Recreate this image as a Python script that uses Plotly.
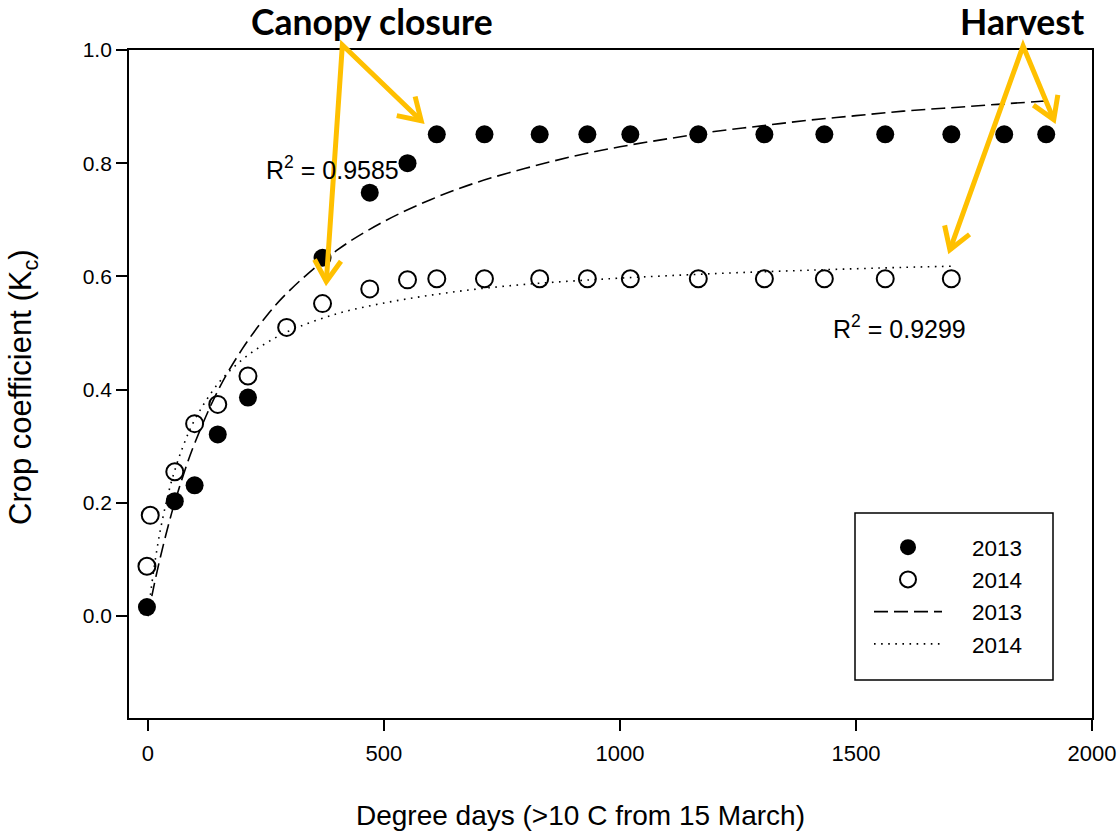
import math
import plotly.graph_objects as go

# ---------------- data ----------------
x_2013 = [-2, 57, 99, 148, 212, 370, 470, 550, 612, 713, 830, 931, 1022, 1166,
          1306, 1433, 1562, 1702, 1814, 1903]
kc_2013 = [0.016, 0.203, 0.231, 0.321, 0.386, 0.633, 0.748, 0.800, 0.851, 0.851,
           0.851, 0.851, 0.851, 0.851, 0.851, 0.851, 0.851, 0.851, 0.851, 0.851]

x_2014 = [-2, 5, 57, 99, 148, 212, 294, 370, 470, 550, 612, 713, 830, 931, 1022,
          1166, 1306, 1433, 1562, 1702]
kc_2014 = [0.088, 0.178, 0.255, 0.340, 0.374, 0.424, 0.510, 0.552, 0.578, 0.594,
           0.596, 0.596, 0.596, 0.596, 0.596, 0.596, 0.596, 0.596, 0.596, 0.596]

# fitted curves
fit_x_2013 = [0, 10, 25, 50, 75, 100, 150, 200, 250, 300, 400, 500, 600, 700, 800,
              900, 1000, 1100, 1200, 1300, 1400, 1500, 1600, 1700, 1800, 1903]
fit_y_2013 = [0.000, 0.042, 0.099, 0.181, 0.249, 0.307, 0.401, 0.472, 0.529, 0.575,
              0.646, 0.697, 0.736, 0.767, 0.791, 0.812, 0.829, 0.843, 0.856, 0.866,
              0.876, 0.884, 0.892, 0.898, 0.904, 0.910]

fit_x_2014 = [0, 5, 10, 20, 30, 50, 75, 100, 150, 200, 250, 300, 400, 500, 600, 700,
              800, 900, 1000, 1200, 1400, 1600, 1702]
fit_y_2014 = [0.000, 0.035, 0.067, 0.122, 0.167, 0.238, 0.301, 0.348, 0.412, 0.453,
              0.482, 0.504, 0.534, 0.553, 0.567, 0.578, 0.586, 0.592, 0.597, 0.605,
              0.611, 0.616, 0.618]

series_names = ["2013", "2014"]
r2_labels = ["R<sup>2</sup> = 0.9585", "R<sup>2</sup> = 0.9299"]
r2_pos = [(392, 0.792), (1592, 0.511)]

x_ticks = [0, 500, 1000, 1500, 2000]
y_ticks = [0.0, 0.2, 0.4, 0.6, 0.8, 1.0]

# ---------------- layout geometry (page pixels) ----------------
W, H = 1120, 834
L, R, T, B = 129, 1092, 50, 718   # plot box
XR = [-40, 2000]
YR = [-0.18, 1.0]

def d2px(x, y):
    px = L + (x - XR[0]) / (XR[1] - XR[0]) * (R - L)
    py = B - (y - YR[0]) / (YR[1] - YR[0]) * (B - T)
    return px, py

def px2paper(px, py):
    return (px - L) / (R - L), (B - py) / (B - T)

FONT = "Liberation Sans, Arial, sans-serif"
GOLD = "#FFC000"
NB = "\u00a0" * 4

fig = go.Figure()
fig.add_trace(go.Scatter(x=x_2013, y=kc_2013, mode="markers", name=NB + series_names[0],
                         marker=dict(symbol="circle", size=18, color="black"),
                         cliponaxis=False))
fig.add_trace(go.Scatter(x=x_2014, y=kc_2014, mode="markers", name=NB + series_names[1],
                         marker=dict(symbol="circle-open", size=17, color="black",
                                     line=dict(width=2, color="black")),
                         cliponaxis=False))
fig.add_trace(go.Scatter(x=fit_x_2013, y=fit_y_2013, mode="lines", name=NB + series_names[0],
                         line=dict(color="black", width=1.6, dash="14px,6px",
                                   shape="spline")))
fig.add_trace(go.Scatter(x=fit_x_2014, y=fit_y_2014, mode="lines", name=NB + series_names[1],
                         line=dict(color="black", width=1.6, dash="1.6px,5.5px",
                                   shape="spline")))

annotations = []
for txt, (ax, ay) in zip(r2_labels, r2_pos):
    annotations.append(dict(x=ax, y=ay, xref="x", yref="y", text=txt, showarrow=False,
                            font=dict(family=FONT, size=25, color="black")))

# headline labels
for txt, (cx, cy) in [("Canopy closure", (372, 21)), ("Harvest", (1022, 21))]:
    px_, py_ = px2paper(cx, cy)
    annotations.append(dict(x=px_, y=py_, xref="paper", yref="paper", text="<b>" + txt + "</b>",
                            showarrow=False, xanchor="center", yanchor="middle",
                            font=dict(family="Lato, Open Sans, sans-serif", size=35.5, color="black")))

# axis titles
tx, ty = px2paper(580, 815)
annotations.append(dict(x=tx, y=ty, xref="paper", yref="paper",
                        text="Degree days (>10 C from 15 March)", showarrow=False,
                        xanchor="center", yanchor="middle",
                        font=dict(family=FONT, size=28, color="black")))
tx, ty = px2paper(23, 387)
annotations.append(dict(x=tx, y=ty, xref="paper", yref="paper",
                        text="Crop coefficient (K<sub>c</sub>)", showarrow=False, textangle=-90,
                        xanchor="center", yanchor="middle",
                        font=dict(family=FONT, size=31, color="black")))

# arrows (data coordinates: origin, tip-left, tip-right)
arrows = [((412, 1.009), (378, 0.591), (579, 0.875)),
          ((1854, 1.007), (1699, 0.647), (1919, 0.877))]
shapes = []

def p2s(px, py):
    a, b = px2paper(px, py)
    return f"{a:.5f},{b:.5f}"

for origin, tl, tr in arrows:
    o = d2px(*origin)
    t1 = d2px(*tl)
    t2 = d2px(*tr)
    shapes.append(dict(type="path", xref="paper", yref="paper",
                       path=f"M{p2s(*t1)} L{p2s(*o)} L{p2s(*t2)}",
                       line=dict(color=GOLD, width=5)))
    for t in (t1, t2):
        dx, dy = t[0] - o[0], t[1] - o[1]
        n = math.hypot(dx, dy)
        ux, uy = dx / n, dy / n
        arms = []
        for ang in (math.radians(32), -math.radians(32)):
            c, s = math.cos(ang), math.sin(ang)
            rx, ry = ux * c - uy * s, ux * s + uy * c
            arms.append((t[0] - 25 * rx, t[1] - 25 * ry))
        shapes.append(dict(type="path", xref="paper", yref="paper",
                           path=f"M{p2s(*arms[0])} L{p2s(*t)} L{p2s(*arms[1])}",
                           line=dict(color=GOLD, width=5)))

# legend frame
bx0, by0 = px2paper(855, 680)
bx1, by1 = px2paper(1053, 513)
shapes.append(dict(type="rect", xref="paper", yref="paper", x0=bx0, y0=by0, x1=bx1, y1=by1,
                   line=dict(color="black", width=1.5), fillcolor="rgba(0,0,0,0)", layer="below"))

lx, ly = px2paper(869, 526)

fig.update_layout(
    width=W, height=H,
    margin=dict(l=L, r=W - R, t=T, b=H - B, autoexpand=False),
    plot_bgcolor="white", paper_bgcolor="white",
    showlegend=True,
    legend=dict(x=lx, y=ly, xanchor="left", yanchor="top",
                borderwidth=0, bgcolor="rgba(0,0,0,0)",
                font=dict(family=FONT, size=22.5, color="black"),
                itemwidth=68),
    annotations=annotations,
    shapes=shapes,
    xaxis=dict(range=XR, tickvals=x_ticks, ticktext=[str(v) for v in x_ticks],
               showgrid=False, zeroline=False, showline=True, linecolor="black",
               linewidth=1.8, mirror=True, ticks="outside", ticklen=11, tickwidth=1.5,
               tickcolor="black", ticklabelstandoff=4, automargin=False,
               ticklabeloverflow="allow",
               tickfont=dict(family=FONT, size=22, color="black")),
    yaxis=dict(range=YR, tickvals=y_ticks, ticktext=[f"{v:.1f}" for v in y_ticks],
               showgrid=False, zeroline=False, showline=True, linecolor="black",
               linewidth=1.8, mirror=True, ticks="outside", ticklen=11, tickwidth=1.5,
               tickcolor="black", automargin=False,
               tickfont=dict(family=FONT, size=21, color="black")),
)

fig.write_html("out.html", config={"displayModeBar": False},
               post_script="document.body.style.margin='0px';")
